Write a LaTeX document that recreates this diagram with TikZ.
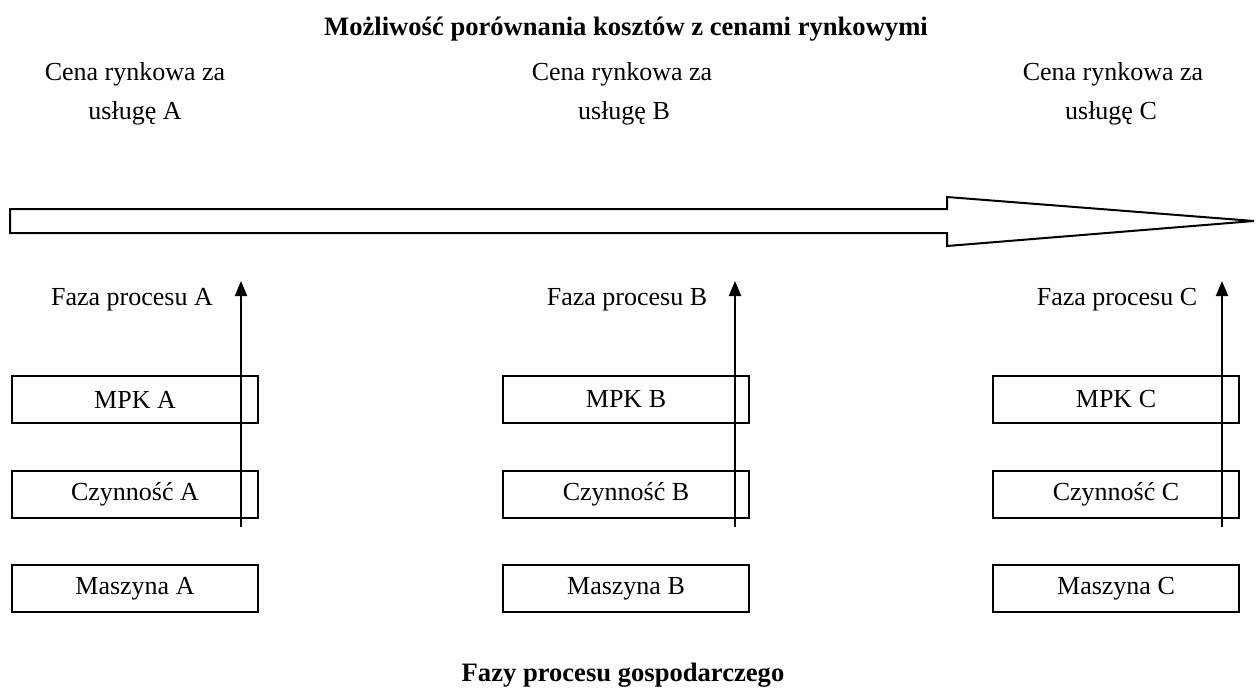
\documentclass[tikz,border=0pt]{standalone}
\usepackage{fontspec}
\setmainfont{Liberation Serif}
\usetikzlibrary{arrows.meta}
\begin{document}
\begin{tikzpicture}[x=0.5pt,y=-0.5pt,
  lbl/.style={inner sep=0pt,font=\fontsize{13}{15}\selectfont},
  ttl/.style={inner sep=0pt,font=\fontsize{13.3}{15}\selectfont\bfseries},
  pbox/.style={draw,line width=1pt,minimum width=123pt,minimum height=23.5pt,inner sep=0pt,
               font=\fontsize{13}{15}\selectfont},
  up/.style={line width=1pt,-{Triangle[length=7.5pt,width=6pt]}}]
\useasboundingbox (0,0) rectangle (1258,687);

% headings
\node[ttl] (top) at (626,29) {Możliwość porównania kosztów z cenami rynkowymi};
\node[ttl] (bottom) at (623,675) {Fazy procesu gospodarczego};

% market prices
\node[lbl] (cenaA) at (135,74) {Cena rynkowa za};
\node[lbl] (uslA) at (135,113) {usługę A};
\node[lbl] (cenaB) at (622,74) {Cena rynkowa za};
\node[lbl] (uslB) at (624,113) {usługę B};
\node[lbl] (cenaC) at (1113,74) {Cena rynkowa za};
\node[lbl] (uslC) at (1111,113) {usługę C};

% wide hollow arrow
\draw[line width=1pt,line join=miter] (10,209) -- (947,209) -- (947,197) -- (1254,221)
  -- (947,246) -- (947,233) -- (10,233) -- cycle;

% process phases
\foreach \c/\bx/\ax/\fx in {A/135/241/132, B/626/735/627, C/1116/1222/1117}{
  \node[lbl] (faza\c) at (\fx,300) {Faza procesu \c};
  \node[pbox] (mpk\c) at (\bx,399.5) {MPK \c};
  \node[pbox] (czyn\c) at (\bx,494) {Czynność \c};
  \node[pbox] (masz\c) at (\bx,588.5) {Maszyna \c};
  \coordinate (lo\c) at (\ax,527);
  \coordinate (hi\c) at (\ax,281);
  \draw[up] (lo\c) -- (hi\c);
}
\end{tikzpicture}
\end{document}
